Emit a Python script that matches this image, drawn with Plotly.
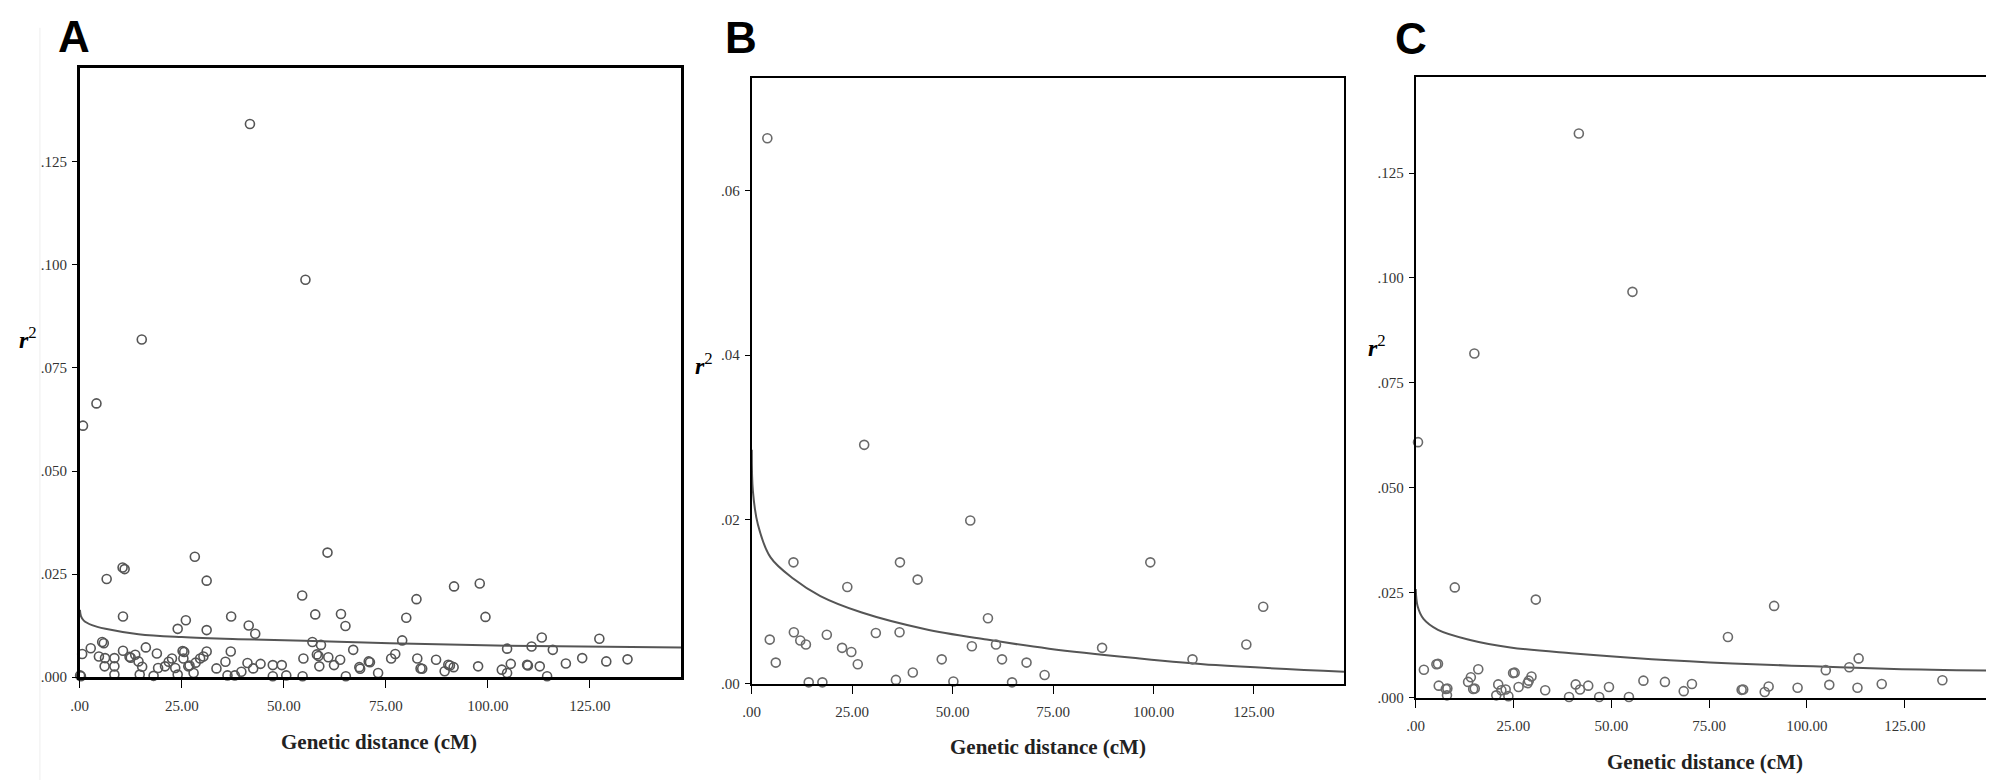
import plotly.graph_objects as go

# ---- data (x = genetic distance in cM, y = r^2) ----
a_dist = [0.8, 4.1, 15.2, 41.7, 55.3,
          6.6, 10.5, 11.0, 28.2, 31.1, 60.7, 10.6, 54.5, 57.7, 64.0, 65.1, 37.1, 26.0, 24.0, 31.1,
          41.4, 43.0, 57.0, 59.1, 67.0,
          0.6, 2.7, 5.5, 5.9, 4.7, 6.2, 6.1, 8.5, 8.5, 8.5, 10.6, 12.2, 12.5, 13.6, 14.4, 15.3, 14.7,
          16.2, 18.9, 19.2, 18.1, 20.9, 21.8, 22.6, 23.4, 24.0, 25.2, 25.6, 25.4, 26.6, 26.9, 28.4,
          29.5, 30.3, 31.1, 27.9, 33.5, 35.7, 37.0, 36.2, 38.0, 39.6, 41.1, 42.5, 44.3, 47.3, 49.5,
          50.6, 47.3, 54.8, 54.6, 58.1, 58.5, 58.7, 60.9, 62.3, 63.8, 65.2, 68.5, 68.7, 70.8, 71.1,
          73.1, 0.3, 0.1,
          76.3, 77.3, 79.0, 80.0, 82.5, 82.7, 83.5, 83.9, 87.3, 89.4, 90.3, 90.7, 91.6, 91.7, 97.6,
          98.0, 99.4, 103.4, 104.7, 105.6, 104.7, 109.6, 109.8, 110.7, 112.7, 113.2, 115.9, 114.5,
          119.1, 123.1, 127.3, 129.0, 134.2]
a_r2 = [0.0610, 0.0664, 0.0819, 0.1342, 0.0964,
        0.0238, 0.0266, 0.0262, 0.0292, 0.0234, 0.0302, 0.0147, 0.0198, 0.0152, 0.0153, 0.0124,
        0.0147, 0.0138, 0.0117, 0.0114, 0.0125, 0.0105, 0.0085, 0.0078, 0.0066,
        0.0056, 0.0070, 0.0085, 0.0082, 0.0050, 0.0046, 0.0026, 0.0046, 0.0026, 0.0006, 0.0064,
        0.0049, 0.0047, 0.0054, 0.0038, 0.0025, 0.0006, 0.0072, 0.0057, 0.0022, 0.0003, 0.0026,
        0.0037, 0.0045, 0.0022, 0.0006, 0.0063, 0.0061, 0.0045, 0.0026, 0.0028, 0.0035, 0.0045,
        0.0050, 0.0062, 0.0010, 0.0021, 0.0037, 0.0062, 0.0004, 0.0004, 0.0013, 0.0034, 0.0021,
        0.0032, 0.0029, 0.0029, 0.0004, 0.0002, 0.0045, 0.0002, 0.0055, 0.0051, 0.0026, 0.0048,
        0.0029, 0.0042, 0.0002, 0.0024, 0.0020, 0.0038, 0.0036, 0.0010, 0.0002, 0.0004,
        0.0045, 0.0056, 0.0089, 0.0144, 0.0189, 0.0045, 0.0021, 0.0020, 0.0042, 0.0014, 0.0030,
        0.0028, 0.0024, 0.0220, 0.0026, 0.0227, 0.0146, 0.0018, 0.0069, 0.0032, 0.0010, 0.0030,
        0.0028, 0.0074, 0.0026, 0.0096, 0.0066, 0.0002, 0.0033, 0.0046, 0.0093, 0.0038, 0.0043]

b_dist = [3.9, 28.0, 54.4, 10.4, 36.9, 99.2, 41.3, 23.8, 127.3, 58.8, 4.5, 6.0, 10.5, 12.1, 13.5,
          18.7, 22.5, 24.8, 26.4, 30.9, 36.8, 54.8, 60.8, 47.3, 62.3, 68.4, 40.1, 35.9, 14.2, 17.6,
          50.2, 64.8, 72.9, 87.2, 109.7, 123.1]
b_r2 = [0.0664, 0.0291, 0.0199, 0.0148, 0.0148, 0.0148, 0.0127, 0.0118, 0.0094, 0.0080, 0.0054,
        0.0026, 0.0063, 0.0053, 0.0048, 0.0060, 0.0044, 0.0039, 0.0024, 0.0062, 0.0063, 0.0046,
        0.0048, 0.0030, 0.0030, 0.0026, 0.0014, 0.0005, 0.0002, 0.0002, 0.0003, 0.0002, 0.0011,
        0.0044, 0.0030, 0.0048]

c_dist = [41.7, 55.4, 15.0, 0.6, 10.0, 30.7, 91.6, 79.8, 113.2, 104.8, 110.8, 2.1, 5.3, 5.7, 5.9,
          7.7, 8.1, 8.0, 13.4, 14.1, 14.7, 15.1, 16.0, 20.6, 21.1, 21.9, 23.0, 23.7, 24.9, 25.3,
          26.3, 28.6, 28.9, 29.6, 33.1, 39.2, 40.9, 42.0, 44.1, 46.9, 49.4, 54.5, 58.2, 63.7, 68.5,
          70.6, 83.3, 83.7, 89.2, 90.2, 97.6, 105.7, 112.9, 119.1, 134.6]
c_r2 = [0.1344, 0.0967, 0.0820, 0.0609, 0.0263, 0.0234, 0.0219, 0.0145, 0.0094, 0.0066, 0.0073,
        0.0067, 0.0080, 0.0081, 0.0029, 0.0021, 0.0022, 0.0006, 0.0038, 0.0049, 0.0021, 0.0022,
        0.0068, 0.0006, 0.0032, 0.0018, 0.0020, 0.0004, 0.0059, 0.0060, 0.0026, 0.0035, 0.0041,
        0.0051, 0.0018, 0.0002, 0.0032, 0.0020, 0.0029, 0.0002, 0.0026, 0.0002, 0.0041, 0.0038,
        0.0016, 0.0033, 0.0019, 0.0020, 0.0014, 0.0027, 0.0024, 0.0031, 0.0024, 0.0033, 0.0042]

# fitted decay curves
a_fit_x = [0.05, 0.3, 1.0, 3.0, 6.3, 14.4, 25.0, 38.8, 55.0, 76.0, 104.8, 147.3]
a_fit_y = [0.0163, 0.0148, 0.0137, 0.0126, 0.0117, 0.0104, 0.0097, 0.0092, 0.0088, 0.0082, 0.0076, 0.0072]
b_fit_x = [0.03, 0.3, 1.55, 4.7, 10.4, 17.1, 27.4, 43.0, 58.5, 74.0, 94.8, 115.5, 147.4]
b_fit_y = [0.0285, 0.0235, 0.0194, 0.0154, 0.0128, 0.0107, 0.0087, 0.0067, 0.0054, 0.0043, 0.0032, 0.0023, 0.0015]
c_fit_x = [0.03, 0.5, 2.0, 5.7, 13.9, 24.2, 39.7, 60.3, 81.0, 101.6, 122.2, 147.8]
c_fit_y = [0.0259, 0.0218, 0.0188, 0.0162, 0.0138, 0.0120, 0.0106, 0.0092, 0.0082, 0.0075, 0.0069, 0.0065]

x_ticks = [0, 25, 50, 75, 100, 125]
x_labels = [".00", "25.00", "50.00", "75.00", "100.00", "125.00"]
y_ticks_ac = [0, 0.025, 0.05, 0.075, 0.1, 0.125]
y_labels_ac = [".000", ".025", ".050", ".075", ".100", ".125"]
y_ticks_b = [0, 0.02, 0.04, 0.06]
y_labels_b = [".00", ".02", ".04", ".06"]

W, H = 1994, 780


def px(x):
    return x / W


def py(y):
    return 1 - y / H


fig = go.Figure()

panels = [
    ("", a_dist, a_r2, a_fit_x, a_fit_y, "#555555"),
    ("2", b_dist, b_r2, b_fit_x, b_fit_y, "#6a6a6a"),
    ("3", c_dist, c_r2, c_fit_x, c_fit_y, "#6a6a6a"),
]
for suffix, xs, ys, fx, fy, col in panels:
    fig.add_trace(go.Scatter(x=fx, y=fy, mode="lines", line=dict(color="#555555", width=2, shape="spline"),
                             xaxis="x" + suffix, yaxis="y" + suffix, hoverinfo="skip"))
    fig.add_trace(go.Scatter(x=xs, y=ys, mode="markers", cliponaxis=False,
                             marker=dict(symbol="circle-open", size=9, color=col, line=dict(width=1.6)),
                             xaxis="x" + suffix, yaxis="y" + suffix))

tick_font = dict(family="Liberation Serif", size=15, color="#333333")


def xaxis(dom, rng, lw, anchor):
    return dict(domain=dom, range=rng, anchor=anchor, tickvals=x_ticks, ticktext=x_labels,
                showline=True, mirror=True, linecolor="black", linewidth=lw, ticks="outside",
                ticklen=8, tickcolor="black", ticklabelstandoff=5, showgrid=False, zeroline=False,
                tickfont=tick_font)


def yaxis(dom, rng, lw, anchor, tv, tt):
    return dict(domain=dom, range=rng, anchor=anchor, tickvals=tv, ticktext=tt,
                showline=True, mirror=True, linecolor="black", linewidth=lw, ticks="outside",
                ticklen=5, tickcolor="black", ticklabelstandoff=2, showgrid=False, zeroline=False,
                tickfont=tick_font)


title_font = dict(family="Liberation Serif", size=21, color="#222222")
letter_font = dict(family="Liberation Sans", size=44, color="black")
r2_font = dict(family="Liberation Serif", size=24, color="black")

annotations = []
for text, x, y in [("A", 57, 29), ("B", 727, 30), ("C", 1400, 31)]:
    annotations.append(dict(text="<b>%s</b>" % text, x=px(x), y=py(y), xref="paper", yref="paper",
                            xanchor="center", yanchor="middle", showarrow=False, font=letter_font))
for x, y in [(364, 742), (1036, 747), (1696, 762)]:
    annotations.append(dict(text="<b>Genetic distance (cM)</b>", x=px(x), y=py(y), xref="paper",
                            yref="paper", xanchor="center", yanchor="middle", showarrow=False,
                            font=title_font))
for x, y in [(11, 333), (690, 360), (1366, 342)]:
    annotations.append(dict(text="<b><i>r</i></b><sup>2</sup>", x=px(x), y=py(y), xref="paper",
                            yref="paper", xanchor="center", yanchor="middle", showarrow=False,
                            font=r2_font))

fig.update_layout(
    width=W, height=H,
    margin=dict(l=0, r=0, t=0, b=0),
    paper_bgcolor="white", plot_bgcolor="white",
    showlegend=False,
    xaxis=xaxis([px(63), px(667)], [0, 147.3], 2.5, "y"),
    yaxis=yaxis([py(676), py(61)], [0, 0.1477], 2.5, "x", y_ticks_ac, y_labels_ac),
    xaxis2=xaxis([px(738), px(1333)], [0, 147.4], 2, "y2"),
    yaxis2=yaxis([py(683), py(71)], [0, 0.0737], 2, "x2", y_ticks_b, y_labels_b),
    xaxis3=xaxis([px(1405), px(1986)], [0, 147.8], 2, "y3"),
    yaxis3=yaxis([py(697), py(70)], [0, 0.1478], 2, "x3", y_ticks_ac, y_labels_ac),
    annotations=annotations,
    shapes=[dict(type="line", xref="paper", yref="paper", x0=px(23), x1=px(23), y0=0, y1=py(20),
                 line=dict(color="#eeeeee", width=1))],
)

fig.write_html("out.html")
